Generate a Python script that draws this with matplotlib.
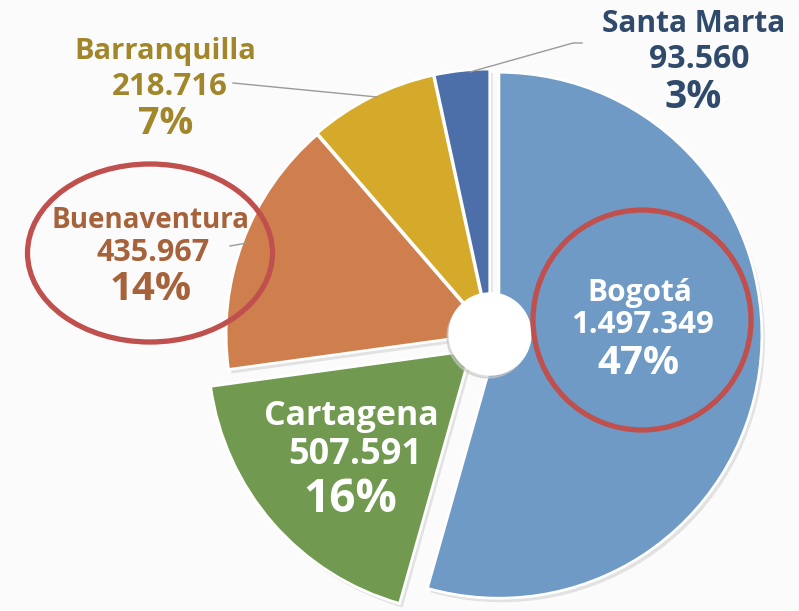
import matplotlib.pyplot as plt
from matplotlib.patches import Circle, Ellipse

cities = ['Bogotá', 'Cartagena', 'Buenaventura', 'Barranquilla', 'Santa Marta']
values = [1497349, 507591, 435967, 218716, 93560]
value_labels = ['1.497.349', '507.591', '435.967', '218.716', '93.560']
pct_labels = ['47%', '16%', '14%', '7%', '3%']
colors = ['#6E9AC5', '#719A50', '#CE7F4D', '#D5AA2B', '#4C6EA9']
# pie explode offsets are absolute here (radius is in pixels)
explode = [9, 25, 1, 2, 2]

plt.rcParams['font.family'] = ['Open Sans', 'DejaVu Sans']

fig = plt.figure(figsize=(7.99, 6.11), dpi=100)
fig.patch.set_facecolor('#fbfbfc')
ax = fig.add_axes([0, 0, 1, 1])

H = 611
cx, cy, r = 490, H - 334, 263

# soft drop shadow
ax.pie(values, colors=['#c4c4c4'] * 5, explode=explode, startangle=90,
       counterclock=False, center=(cx + 3, cy - 4), radius=r,
       wedgeprops=dict(linewidth=0, alpha=0.45), frame=True)

ax.pie(values, colors=colors, explode=explode, startangle=90,
       counterclock=False, center=(cx, cy), radius=r,
       wedgeprops=dict(edgecolor='white', linewidth=2), frame=True)

ax.add_patch(Circle((cx - 2, cy - 3), 41, color='#c8c8c8', alpha=0.6, zorder=5))
ax.add_patch(Circle((cx, cy), 41, color='white', zorder=6))

ax.set_xlim(0, 799)
ax.set_ylim(0, 611)
ax.set_aspect('equal')
ax.axis('off')

# line centres x / y (pixels from top), font sizes, colour
labels = {
    'Barranquilla': ([165, 170, 166], [51, 87, 124], (21, 22.5, 27), '#A2862A'),
    'Buenaventura': ([151, 153, 151], [220, 253, 289], (20, 22, 29), '#A6623B'),
    'Santa Marta': ([694, 699, 693], [24, 60, 97], (21.5, 23, 28), '#2F4A6B'),
    'Bogotá': ([640, 643, 638], [293, 325, 363], (21.5, 22.5, 29), 'white'),
    'Cartagena': ([351, 355, 350], [416, 455, 500], (24.5, 26, 33), 'white'),
}

for i, name in enumerate(cities):
    xs, ys, sizes, col = labels[name]
    lines = [name, value_labels[i], pct_labels[i]]
    for txt, x, y, s in zip(lines, xs, ys, sizes):
        ax.text(x, H - y, txt, color=col, fontsize=s, fontweight='bold',
                ha='center', va='center', zorder=7)

# leader lines
ax.plot([233, 377], [H - 83, H - 97], color='#9a9a9a', lw=1)
ax.plot([230, 247], [H - 246, H - 243], color='#9a9a9a', lw=1)
ax.plot([470, 573, 582], [H - 72, H - 43, H - 43], color='#9a9a9a', lw=1)

# red highlight rings
ax.add_patch(Ellipse((150, H - 253), 245, 178, fill=False, edgecolor='#C0504D', lw=3.8, zorder=8))
ax.add_patch(Ellipse((642, H - 320), 218, 220, fill=False, edgecolor='#C0504D', lw=3.8, zorder=8))

fig.savefig('out.png', dpi=100, facecolor=fig.get_facecolor())
